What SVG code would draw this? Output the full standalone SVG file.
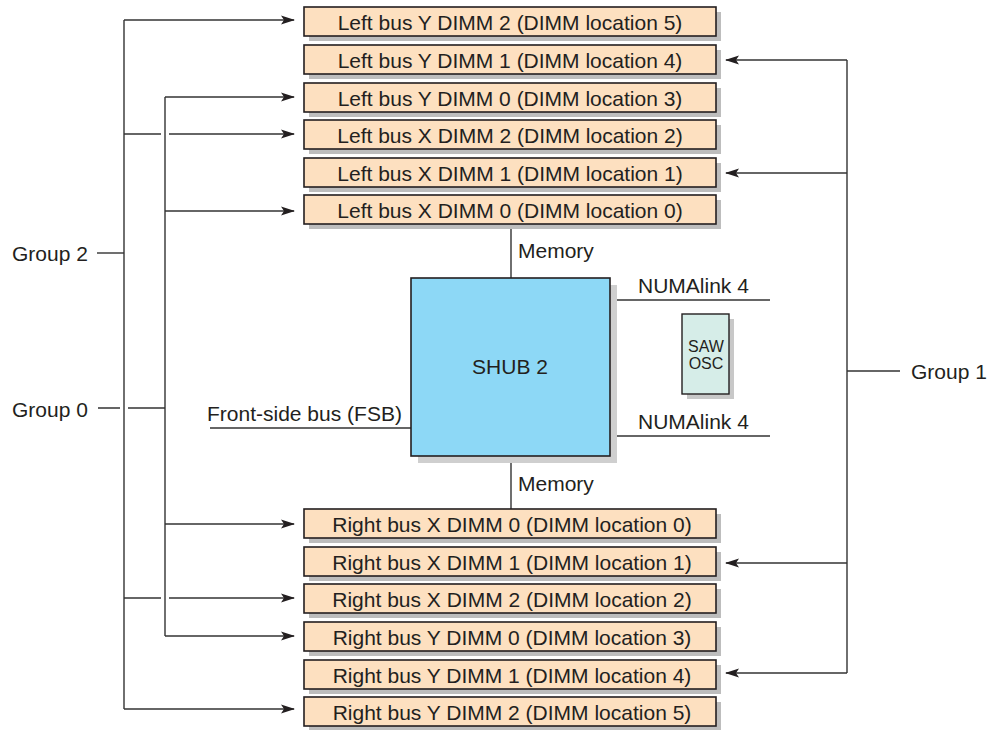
<svg xmlns="http://www.w3.org/2000/svg" width="994" height="730" viewBox="0 0 994 730">
<style>
text{font-family:"Liberation Sans",Arial,sans-serif;fill:#231f20}
.dt{font-size:21px;text-anchor:middle}
.lb{font-size:21px}
.dimm{fill:#fde0c0;stroke:#231f20;stroke-width:1.6}
.sh{fill:#bdbdbd}
.ln{stroke:#333;stroke-width:1.4;fill:none}
.ar{stroke:#333;stroke-width:1.4;fill:none;marker-end:url(#ah)}
</style>
<defs>
<marker id="ah" viewBox="0 0 14 10" refX="13" refY="5" markerWidth="14" markerHeight="10" markerUnits="userSpaceOnUse" orient="auto">
<path d="M0,0.5 L14,5 L0,9.5 L3,5 Z" fill="#231f20"/>
</marker>
</defs>
<g id="connectors">
<path class="ln" d="M124,20 V709"/>
<path class="ln" d="M165,97 V636"/>
<path class="ar" d="M124,20 H294"/>
<path class="ar" d="M165,97 H294"/>
<path class="ln" d="M124,134 H161"/>
<path class="ar" d="M169,134 H294"/>
<path class="ar" d="M165,211 H294"/>
<path class="ar" d="M165,524 H294"/>
<path class="ln" d="M124,598 H161"/>
<path class="ar" d="M169,598 H294"/>
<path class="ar" d="M165,636 H294"/>
<path class="ar" d="M124,709 H294"/>
<path class="ln" d="M97,253 H124"/>
<path class="ln" d="M98,408 H120 M128,408 H165"/>
<path class="ln" d="M847,60 V673"/>
<path class="ar" d="M847,60 H726"/>
<path class="ar" d="M847,173 H726"/>
<path class="ar" d="M847,563 H726"/>
<path class="ar" d="M847,673 H726"/>
<path class="ln" d="M847,371 H900"/>
<path class="ln" d="M511,224 V278"/>
<path class="ln" d="M511,456 V509"/>
<path class="ln" d="M210,428 H411"/>
<path class="ln" d="M610,300 H770"/>
<path class="ln" d="M610,436 H770"/>
</g>
<g id="labels">
<text class="lb" x="12" y="261">Group 2</text>
<text class="lb" x="12" y="417">Group 0</text>
<text class="lb" x="911" y="379">Group 1</text>
<text class="lb" x="207" y="421">Front-side bus (FSB)</text>
<text class="lb" x="518" y="258">Memory</text>
<text class="lb" x="518" y="491">Memory</text>
<text class="lb" x="638" y="293">NUMAlink 4</text>
<text class="lb" x="638" y="429">NUMAlink 4</text>
</g>
<g id="shub2">
<rect x="418" y="285" width="199" height="178" fill="#cfcfcf"/>
<rect x="411" y="278" width="199" height="178" fill="#8dd8f6" stroke="#231f20" stroke-width="1.6"/>
<text class="dt" x="510" y="374">SHUB 2</text>
</g>
<g id="sawosc">
<rect x="687" y="319" width="47" height="80" fill="#c8c8c8"/>
<rect x="682" y="314" width="47" height="80" fill="#d6ede8" stroke="#231f20" stroke-width="1.4"/>
<text x="706" y="352" font-size="16" text-anchor="middle">SAW</text>
<text x="706" y="369" font-size="16" text-anchor="middle">OSC</text>
</g>
<g id="left-y2"><rect class="sh" x="309" y="12" width="412" height="29"/><rect class="dimm" x="304" y="7" width="412" height="29"/><text class="dt" x="510" y="29.5">Left bus Y DIMM 2 (DIMM location 5)</text></g>
<g id="left-y1"><rect class="sh" x="309" y="50" width="412" height="29"/><rect class="dimm" x="304" y="45" width="412" height="29"/><text class="dt" x="510" y="67.5">Left bus Y DIMM 1 (DIMM location 4)</text></g>
<g id="left-y0"><rect class="sh" x="309" y="88" width="412" height="29"/><rect class="dimm" x="304" y="83" width="412" height="29"/><text class="dt" x="510" y="105.5">Left bus Y DIMM 0 (DIMM location 3)</text></g>
<g id="left-x2"><rect class="sh" x="309" y="125" width="412" height="29"/><rect class="dimm" x="304" y="120" width="412" height="29"/><text class="dt" x="510" y="142.5">Left bus X DIMM 2 (DIMM location 2)</text></g>
<g id="left-x1"><rect class="sh" x="309" y="163" width="412" height="29"/><rect class="dimm" x="304" y="158" width="412" height="29"/><text class="dt" x="510" y="180.5">Left bus X DIMM 1 (DIMM location 1)</text></g>
<g id="left-x0"><rect class="sh" x="309" y="200" width="412" height="29"/><rect class="dimm" x="304" y="195" width="412" height="29"/><text class="dt" x="510" y="217.5">Left bus X DIMM 0 (DIMM location 0)</text></g>
<g id="right-x0"><rect class="sh" x="309" y="514" width="412" height="29"/><rect class="dimm" x="304" y="509" width="412" height="29"/><text class="dt" x="512" y="531.5">Right bus X DIMM 0 (DIMM location 0)</text></g>
<g id="right-x1"><rect class="sh" x="309" y="552" width="412" height="29"/><rect class="dimm" x="304" y="547" width="412" height="29"/><text class="dt" x="512" y="569.5">Right bus X DIMM 1 (DIMM location 1)</text></g>
<g id="right-x2"><rect class="sh" x="309" y="589" width="412" height="29"/><rect class="dimm" x="304" y="584" width="412" height="29"/><text class="dt" x="512" y="606.5">Right bus X DIMM 2 (DIMM location 2)</text></g>
<g id="right-y0"><rect class="sh" x="309" y="627" width="412" height="29"/><rect class="dimm" x="304" y="622" width="412" height="29"/><text class="dt" x="512" y="644.5">Right bus Y DIMM 0 (DIMM location 3)</text></g>
<g id="right-y1"><rect class="sh" x="309" y="665" width="412" height="29"/><rect class="dimm" x="304" y="660" width="412" height="29"/><text class="dt" x="512" y="682.5">Right bus Y DIMM 1 (DIMM location 4)</text></g>
<g id="right-y2"><rect class="sh" x="309" y="702" width="412" height="28"/><rect class="dimm" x="304" y="697" width="412" height="29"/><text class="dt" x="512" y="719.5">Right bus Y DIMM 2 (DIMM location 5)</text></g>
</svg>
